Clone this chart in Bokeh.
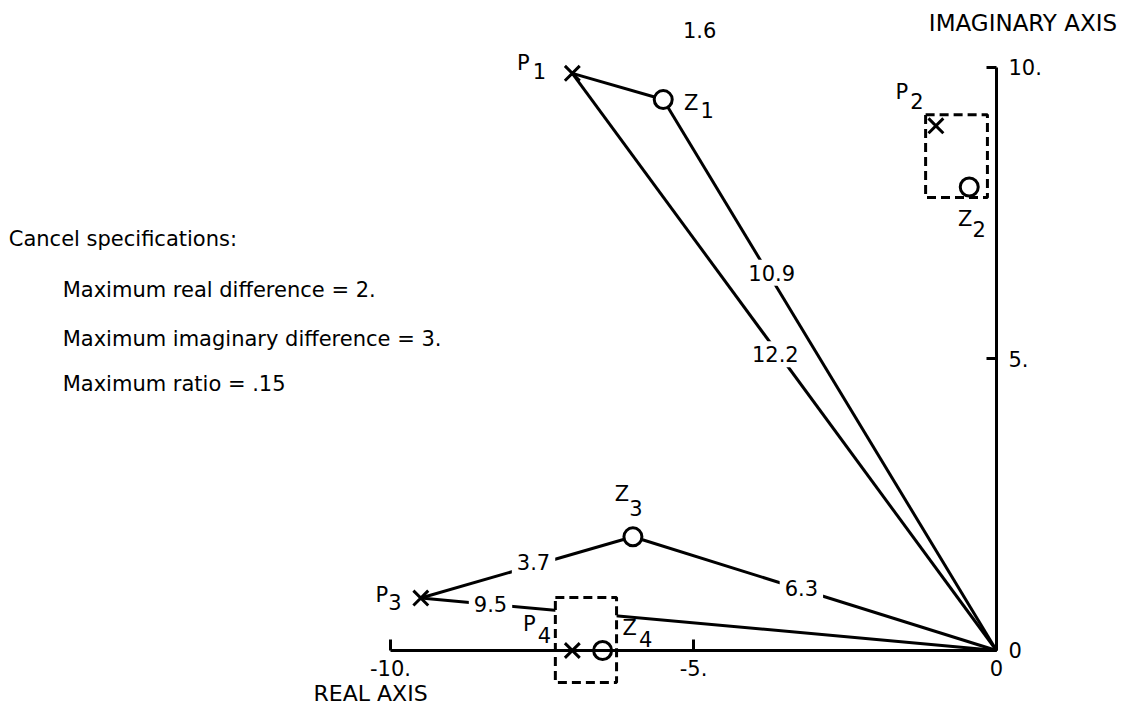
from bokeh.plotting import figure
from bokeh.models import (LinearAxis, FixedTicker, CustomJSTickFormatter, Range1d, Label)
from bokeh.core.properties import value
from bokeh.embed import file_html
from bokeh.resources import INLINE

# ---------------- data ----------------
pole_names = ["P1", "P2", "P3", "P4"]
pole_x = [-7.0, -1.0, -9.5, -7.0]
pole_y = [9.9, 9.0, 0.9, 0.0]

zero_names = ["Z1", "Z2", "Z3", "Z4"]
zero_x = [-5.5, -0.45, -6.0, -6.5]
zero_y = [9.45, 7.95, 1.95, 0.0]

# connections drawn between points ("O" = origin)
links = [("P1", "Z1"), ("P1", "O"), ("Z1", "O"), ("P3", "Z3"), ("Z3", "O"), ("P3", "O")]

dist_text = ["1.6", "12.2", "10.9", "3.7", "6.3", "9.5"]
dist_x = [-4.9, -3.65, -3.71, -7.64, -3.22, -8.35]
dist_y = [10.65, 5.08, 6.48, 1.52, 1.07, 0.80]

# dashed cancellation windows
box_x = [-0.66, -6.775]
box_y = [8.48, 0.18]
box_w = [1.02, 1.01]
box_h = [1.42, 1.46]

real_ticks = [-10, -5, 0]
imag_ticks = [0, 5, 10]

spec_title = "Cancel specifications:"
spec_lines = ["Maximum real difference = 2.",
              "Maximum imaginary difference = 3.",
              "Maximum ratio = .15"]

FONT = "DejaVu Sans"

# ---------------- figure ----------------
p = figure(width=1126, height=708,
           x_range=Range1d(-16.436, 2.145), y_range=Range1d(-0.995, 11.149),
           output_backend="svg", toolbar_location=None,
           x_axis_location=None, y_axis_location=None,
           min_border=0, outline_line_color=None)
p.xgrid.grid_line_color = None
p.ygrid.grid_line_color = None

fmt = CustomJSTickFormatter(code="return tick === 0 ? '0' : tick.toFixed(0) + '.';")

def style_axis(ax):
    ax.axis_line_width = 3
    ax.axis_line_color = "black"
    ax.major_tick_line_width = 3
    ax.major_tick_line_color = "black"
    ax.major_tick_in = 11
    ax.major_tick_out = 0
    ax.minor_tick_in = 0
    ax.minor_tick_out = 0
    ax.major_label_text_font = FONT
    ax.major_label_text_font_size = "21px"
    ax.major_label_text_color = "black"

xa = LinearAxis(fixed_location=0, bounds=(-10, 0),
                ticker=FixedTicker(ticks=real_ticks), formatter=fmt)
style_axis(xa)
xa.major_label_standoff = 10
p.add_layout(xa, "below")

ya = LinearAxis(fixed_location=0, bounds=(0, 10),
                ticker=FixedTicker(ticks=imag_ticks), formatter=fmt)
style_axis(ya)
ya.major_tick_in = 10
ya.major_label_standoff = 12
p.add_layout(ya, "right")

# ---------------- lines ----------------
pts = {"O": (0.0, 0.0)}
for n, x, y in zip(pole_names, pole_x, pole_y):
    pts[n] = (x, y)
for n, x, y in zip(zero_names, zero_x, zero_y):
    pts[n] = (x, y)

p.segment(x0=[pts[a][0] for a, b in links], y0=[pts[a][1] for a, b in links],
          x1=[pts[b][0] for a, b in links], y1=[pts[b][1] for a, b in links],
          line_width=3, line_color="black")

# dashed boxes (white-filled so that lines are interrupted)
p.rect(x=box_x, y=box_y, width=box_w, height=box_h,
       fill_color="white", line_color="black", line_width=3, line_dash="9 5")

# markers
p.scatter(pole_x, pole_y, marker="x", size=21, line_width=3, line_color="black")
p.scatter(zero_x, zero_y, marker="circle", size=18, fill_color="white",
          line_color="black", line_width=3)

# point names: letter + lowered index
letter_dx = [-49, -34, -39, -43, 28, -4, -11, 27]
letter_dy = [-10, -34, -3, -26, 3, 32, -43, -22]
sub_dx = [-33, -19, -26, -28, 44, 10, 3, 43]
sub_dy = [-2, -25, 4, -15, 10, 42, -29, -11]
all_names = pole_names + zero_names
all_x = pole_x + zero_x
all_y = pole_y + zero_y
p.text(x=all_x, y=all_y, text=[n[0] for n in all_names],
       x_offset=letter_dx, y_offset=letter_dy,
       text_align="center", text_baseline="middle",
       text_font=value(FONT), text_font_size="21px", text_color="black")
p.text(x=all_x, y=all_y, text=[n[1:] for n in all_names],
       x_offset=sub_dx, y_offset=sub_dy,
       text_align="center", text_baseline="middle",
       text_font=value(FONT), text_font_size="21px", text_color="black")

# distance labels
for t, x, y in zip(dist_text, dist_x, dist_y):
    p.add_layout(Label(x=x, y=y, text=t, text_align="center", text_baseline="middle",
                       text_font=FONT, text_font_size="21px", text_color="black",
                       background_fill_color="white", padding=5))

# axis titles
p.add_layout(Label(x=1.99, y=10.77, text="IMAGINARY AXIS", text_align="right",
                   text_baseline="alphabetic", text_font=FONT, text_font_size="23px",
                   text_color="black"))
p.add_layout(Label(x=-11.27, y=-0.73, text="REAL AXIS", text_align="left",
                   text_baseline="alphabetic", text_font=FONT, text_font_size="22px",
                   text_color="black"))

# specification text
p.add_layout(Label(x=-16.30, y=7.05, text=spec_title, text_align="left",
                   text_baseline="alphabetic", text_font=FONT, text_font_size="21px",
                   text_color="black"))
for t, y in zip(spec_lines, [6.175, 5.34, 4.565]):
    p.add_layout(Label(x=-15.41, y=y, text=t, text_align="left",
                       text_baseline="alphabetic", text_font=FONT, text_font_size="21px",
                       text_color="black"))

open("out.html", "w").write(file_html(p, INLINE))
